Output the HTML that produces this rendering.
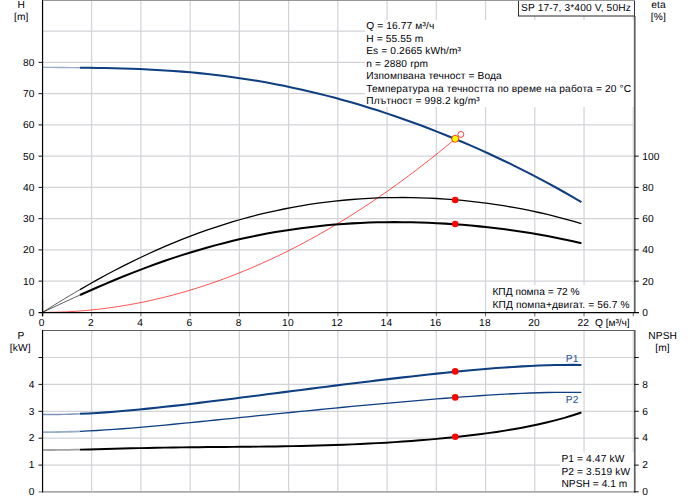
<!DOCTYPE html>
<html><head><meta charset="utf-8"><title>SP 17-7 pump curve</title>
<style>html,body{margin:0;padding:0;background:#fff;}body{width:691px;height:500px;overflow:hidden;position:relative;font-family:"Liberation Sans",sans-serif;}</style></head>
<body>
<svg width="691" height="500" viewBox="0 0 691 500" style="position:absolute;left:0;top:0;display:block">
<rect x="0" y="0" width="691" height="500" fill="#ffffff"/>
<g stroke="#d1d3d7" stroke-width="1.2" fill="none">
<line x1="91.64" y1="0" x2="91.64" y2="312"/>
<line x1="91.64" y1="330" x2="91.64" y2="492"/>
<line x1="140.88" y1="0" x2="140.88" y2="312"/>
<line x1="140.88" y1="330" x2="140.88" y2="492"/>
<line x1="190.12" y1="0" x2="190.12" y2="312"/>
<line x1="190.12" y1="330" x2="190.12" y2="492"/>
<line x1="239.36" y1="0" x2="239.36" y2="312"/>
<line x1="239.36" y1="330" x2="239.36" y2="492"/>
<line x1="288.60" y1="0" x2="288.60" y2="312"/>
<line x1="288.60" y1="330" x2="288.60" y2="492"/>
<line x1="337.84" y1="0" x2="337.84" y2="312"/>
<line x1="337.84" y1="330" x2="337.84" y2="492"/>
<line x1="387.08" y1="0" x2="387.08" y2="312"/>
<line x1="387.08" y1="330" x2="387.08" y2="492"/>
<line x1="436.32" y1="0" x2="436.32" y2="312"/>
<line x1="436.32" y1="330" x2="436.32" y2="492"/>
<line x1="485.56" y1="0" x2="485.56" y2="312"/>
<line x1="485.56" y1="330" x2="485.56" y2="492"/>
<line x1="534.80" y1="0" x2="534.80" y2="312"/>
<line x1="534.80" y1="330" x2="534.80" y2="492"/>
<line x1="584.04" y1="0" x2="584.04" y2="312"/>
<line x1="584.04" y1="330" x2="584.04" y2="492"/>
<line x1="633.28" y1="0" x2="633.28" y2="312"/>
<line x1="633.28" y1="330" x2="633.28" y2="492"/>
<line x1="43" y1="281.15" x2="634" y2="281.15"/>
<line x1="43" y1="249.90" x2="634" y2="249.90"/>
<line x1="43" y1="218.65" x2="634" y2="218.65"/>
<line x1="43" y1="187.40" x2="634" y2="187.40"/>
<line x1="43" y1="156.15" x2="634" y2="156.15"/>
<line x1="43" y1="124.90" x2="634" y2="124.90"/>
<line x1="43" y1="93.65" x2="634" y2="93.65"/>
<line x1="43" y1="62.40" x2="634" y2="62.40"/>
<line x1="43" y1="31.15" x2="634" y2="31.15"/>
<line x1="43" y1="465.10" x2="634" y2="465.10"/>
<line x1="43" y1="438.20" x2="634" y2="438.20"/>
<line x1="43" y1="411.30" x2="634" y2="411.30"/>
<line x1="43" y1="384.40" x2="634" y2="384.40"/>
<line x1="43" y1="357.50" x2="634" y2="357.50"/>
</g>
<rect x="365" y="20" width="268.5" height="87" fill="#fff"/>
<rect x="490" y="285" width="143.5" height="27" fill="#fff"/>
<rect x="560" y="452.5" width="73.5" height="39" fill="#fff"/>
<line x1="38.5" y1="491.8" x2="635.5" y2="491.8" stroke="#aaaaaa" stroke-width="1.7"/>
<line x1="42" y1="330.5" x2="635.3" y2="330.5" stroke="#5e5e5e" stroke-width="1.1"/>
<line x1="634.8" y1="16" x2="634.8" y2="312.5" stroke="#626262" stroke-width="1.65"/>
<line x1="634.8" y1="330" x2="634.8" y2="492.5" stroke="#626262" stroke-width="1.65"/>
<line x1="42.55" y1="0" x2="42.55" y2="316.2" stroke="#000" stroke-width="1.2"/>
<line x1="42.55" y1="330" x2="42.55" y2="492.3" stroke="#000" stroke-width="1.2"/>
<g stroke="#161616" stroke-width="1">
<line x1="38.5" y1="281.15" x2="42" y2="281.15"/>
<line x1="38.5" y1="249.90" x2="42" y2="249.90"/>
<line x1="38.5" y1="218.65" x2="42" y2="218.65"/>
<line x1="38.5" y1="187.40" x2="42" y2="187.40"/>
<line x1="38.5" y1="156.15" x2="42" y2="156.15"/>
<line x1="38.5" y1="124.90" x2="42" y2="124.90"/>
<line x1="38.5" y1="93.65" x2="42" y2="93.65"/>
<line x1="38.5" y1="62.40" x2="42" y2="62.40"/>
<line x1="634" y1="281.15" x2="638.8" y2="281.15"/>
<line x1="634" y1="249.90" x2="638.8" y2="249.90"/>
<line x1="634" y1="218.65" x2="638.8" y2="218.65"/>
<line x1="634" y1="187.40" x2="638.8" y2="187.40"/>
<line x1="634" y1="156.15" x2="638.8" y2="156.15"/>
<line x1="91.64" y1="312" x2="91.64" y2="316.4" stroke="#6a6a6a" stroke-width="1"/>
<line x1="140.88" y1="312" x2="140.88" y2="316.4" stroke="#6a6a6a" stroke-width="1"/>
<line x1="190.12" y1="312" x2="190.12" y2="316.4" stroke="#6a6a6a" stroke-width="1"/>
<line x1="239.36" y1="312" x2="239.36" y2="316.4" stroke="#6a6a6a" stroke-width="1"/>
<line x1="288.60" y1="312" x2="288.60" y2="316.4" stroke="#6a6a6a" stroke-width="1"/>
<line x1="337.84" y1="312" x2="337.84" y2="316.4" stroke="#6a6a6a" stroke-width="1"/>
<line x1="387.08" y1="312" x2="387.08" y2="316.4" stroke="#6a6a6a" stroke-width="1"/>
<line x1="436.32" y1="312" x2="436.32" y2="316.4" stroke="#6a6a6a" stroke-width="1"/>
<line x1="485.56" y1="312" x2="485.56" y2="316.4" stroke="#6a6a6a" stroke-width="1"/>
<line x1="534.80" y1="312" x2="534.80" y2="316.4" stroke="#6a6a6a" stroke-width="1"/>
<line x1="584.04" y1="312" x2="584.04" y2="316.4" stroke="#6a6a6a" stroke-width="1"/>
<line x1="633.28" y1="312" x2="633.28" y2="316.4" stroke="#6a6a6a" stroke-width="1"/>
<line x1="38.5" y1="465.10" x2="42" y2="465.10"/>
<line x1="634" y1="465.10" x2="638.8" y2="465.10"/>
<line x1="38.5" y1="438.20" x2="42" y2="438.20"/>
<line x1="634" y1="438.20" x2="638.8" y2="438.20"/>
<line x1="38.5" y1="411.30" x2="42" y2="411.30"/>
<line x1="634" y1="411.30" x2="638.8" y2="411.30"/>
<line x1="38.5" y1="384.40" x2="42" y2="384.40"/>
<line x1="634" y1="384.40" x2="638.8" y2="384.40"/>
<line x1="38.5" y1="357.50" x2="42" y2="357.50"/>
<line x1="634" y1="357.50" x2="638.8" y2="357.50"/>
<line x1="634" y1="491.8" x2="638.8" y2="491.8"/>
</g>
<g fill="none" stroke-linecap="butt" stroke-linejoin="round">
<path d="M42.40,67.27 L47.77,67.35 L53.14,67.41 L58.51,67.48 L63.89,67.53 L69.26,67.59 L74.63,67.64 L80.00,67.70" stroke="#0e3f80" stroke-width="1.4" stroke-opacity="0.42"/>
<path d="M42.40,414.45 L47.77,414.50 L53.14,414.50 L58.51,414.45 L63.89,414.36 L69.26,414.22 L74.63,414.05 L80.00,413.83" stroke="#0e3f80" stroke-width="1.4" stroke-opacity="0.55"/>
<path d="M42.40,432.06 L47.77,432.08 L53.14,432.06 L58.51,431.99 L63.89,431.88 L69.26,431.74 L74.63,431.56 L80.00,431.35" stroke="#0e3f80" stroke-width="1.8" stroke-opacity="0.42"/>
<path d="M42.40,449.96 L47.77,449.99 L53.14,449.99 L58.51,449.96 L63.89,449.90 L69.26,449.82 L74.63,449.72 L80.00,449.61" stroke="#000" stroke-width="1.8" stroke-opacity="0.36"/>
<path d="M42.40,312.43 L47.77,309.05 L53.14,305.70 L58.51,302.39 L63.89,299.13 L69.26,295.90 L74.63,292.72 L80.00,289.58" stroke="#000" stroke-width="0.8" stroke-opacity="0.8"/>
<path d="M42.40,312.41 L47.77,309.88 L53.14,307.36 L58.51,304.86 L63.89,302.37 L69.26,299.90 L74.63,297.45 L80.00,295.02" stroke="#000" stroke-width="0.8" stroke-opacity="0.8"/>
<path d="M42.40,312.40 L50.83,312.33 L59.25,312.11 L67.68,311.75 L76.10,311.24 L84.53,310.59 L92.96,309.80 L101.38,308.86 L109.81,307.77 L118.23,306.54 L126.66,305.17 L135.09,303.65 L143.51,301.99 L151.94,300.18 L160.36,298.23 L168.79,296.13 L177.22,293.89 L185.64,291.51 L194.07,288.97 L202.50,286.30 L210.92,283.48 L219.35,280.52 L227.77,277.41 L236.20,274.15 L244.63,270.75 L253.05,267.21 L261.48,263.52 L269.90,259.69 L278.33,255.72 L286.76,251.60 L295.18,247.33 L303.61,242.92 L312.03,238.36 L320.46,233.66 L328.89,228.82 L337.31,223.83 L345.74,218.70 L354.16,213.42 L362.59,208.00 L371.02,202.43 L379.44,196.72 L387.87,190.86 L396.29,184.86 L404.72,178.72 L413.15,172.43 L421.57,165.99 L430.00,159.41 L438.43,152.69 L446.85,145.82 L455.28,138.81" stroke="#ff0000" stroke-width="0.85" stroke-opacity="0.8"/>
<path d="M80.00,289.58 L88.50,284.70 L97.00,279.94 L105.49,275.30 L113.99,270.78 L122.49,266.39 L130.99,262.13 L139.49,258.01 L147.99,254.01 L156.48,250.16 L164.98,246.44 L173.48,242.85 L181.98,239.41 L190.48,236.11 L198.98,232.95 L207.47,229.93 L215.97,227.05 L224.47,224.31 L232.97,221.71 L241.47,219.25 L249.97,216.93 L258.46,214.74 L266.96,212.70 L275.46,210.79 L283.96,209.01 L292.46,207.37 L300.96,205.86 L309.45,204.48 L317.95,203.23 L326.45,202.10 L334.95,201.11 L343.45,200.24 L351.95,199.49 L360.44,198.86 L368.94,198.35 L377.44,197.97 L385.94,197.70 L394.44,197.55 L402.94,197.51 L411.43,197.59 L419.93,197.78 L428.43,198.09 L436.93,198.51 L445.43,199.04 L453.93,199.69 L462.42,200.45 L470.92,201.32 L479.42,202.30 L487.92,203.40 L496.42,204.62 L504.92,205.96 L513.41,207.41 L521.91,208.98 L530.41,210.68 L538.91,212.50 L547.41,214.46 L555.91,216.54 L564.40,218.76 L572.90,221.13 L581.40,223.63" stroke="#000" stroke-width="1.3"/>
<path d="M80.00,295.02 L88.50,291.23 L97.00,287.50 L105.49,283.85 L113.99,280.28 L122.49,276.80 L130.99,273.40 L139.49,270.10 L147.99,266.89 L156.48,263.79 L164.98,260.79 L173.48,257.90 L181.98,255.12 L190.48,252.46 L198.98,249.90 L207.47,247.46 L215.97,245.13 L224.47,242.92 L232.97,240.83 L241.47,238.85 L249.97,236.99 L258.46,235.24 L266.96,233.61 L275.46,232.10 L283.96,230.69 L292.46,229.40 L300.96,228.22 L309.45,227.15 L317.95,226.19 L326.45,225.33 L334.95,224.58 L343.45,223.93 L351.95,223.39 L360.44,222.94 L368.94,222.60 L377.44,222.34 L385.94,222.19 L394.44,222.12 L402.94,222.15 L411.43,222.27 L419.93,222.48 L428.43,222.78 L436.93,223.16 L445.43,223.63 L453.93,224.19 L462.42,224.83 L470.92,225.56 L479.42,226.37 L487.92,227.26 L496.42,228.25 L504.92,229.32 L513.41,230.47 L521.91,231.72 L530.41,233.06 L538.91,234.49 L547.41,236.02 L555.91,237.65 L564.40,239.38 L572.90,241.22 L581.40,243.17" stroke="#000" stroke-width="2.05"/>
<path d="M80.00,67.70 L88.50,67.80 L97.00,67.93 L105.49,68.08 L113.99,68.26 L122.49,68.49 L130.99,68.76 L139.49,69.08 L147.99,69.46 L156.48,69.90 L164.98,70.40 L173.48,70.97 L181.98,71.62 L190.48,72.34 L198.98,73.14 L207.47,74.02 L215.97,74.99 L224.47,76.04 L232.97,77.17 L241.47,78.39 L249.97,79.71 L258.46,81.11 L266.96,82.60 L275.46,84.19 L283.96,85.86 L292.46,87.63 L300.96,89.49 L309.45,91.44 L317.95,93.49 L326.45,95.63 L334.95,97.85 L343.45,100.17 L351.95,102.58 L360.44,105.08 L368.94,107.67 L377.44,110.35 L385.94,113.12 L394.44,115.98 L402.94,118.93 L411.43,121.96 L419.93,125.08 L428.43,128.30 L436.93,131.60 L445.43,134.98 L453.93,138.46 L462.42,142.02 L470.92,145.68 L479.42,149.43 L487.92,153.27 L496.42,157.20 L504.92,161.22 L513.41,165.35 L521.91,169.57 L530.41,173.89 L538.91,178.32 L547.41,182.85 L555.91,187.50 L564.40,192.25 L572.90,197.13 L581.40,202.13" stroke="#0e3f80" stroke-width="2.05"/>
<path d="M80.00,413.83 L88.50,413.42 L97.00,412.93 L105.49,412.36 L113.99,411.73 L122.49,411.03 L130.99,410.28 L139.49,409.48 L147.99,408.63 L156.48,407.75 L164.98,406.83 L173.48,405.88 L181.98,404.91 L190.48,403.91 L198.98,402.89 L207.47,401.85 L215.97,400.80 L224.47,399.74 L232.97,398.67 L241.47,397.59 L249.97,396.50 L258.46,395.41 L266.96,394.32 L275.46,393.23 L283.96,392.13 L292.46,391.04 L300.96,389.95 L309.45,388.86 L317.95,387.78 L326.45,386.70 L334.95,385.63 L343.45,384.57 L351.95,383.51 L360.44,382.46 L368.94,381.42 L377.44,380.39 L385.94,379.38 L394.44,378.38 L402.94,377.39 L411.43,376.42 L419.93,375.46 L428.43,374.53 L436.93,373.62 L445.43,372.73 L453.93,371.88 L462.42,371.05 L470.92,370.25 L479.42,369.49 L487.92,368.77 L496.42,368.10 L504.92,367.48 L513.41,366.90 L521.91,366.39 L530.41,365.94 L538.91,365.56 L547.41,365.26 L555.91,365.04 L564.40,364.92 L572.90,364.89 L581.40,364.96" stroke="#0e3f80" stroke-width="2.05"/>
<path d="M80.00,431.35 L88.50,430.95 L97.00,430.49 L105.49,429.96 L113.99,429.38 L122.49,428.75 L130.99,428.08 L139.49,427.37 L147.99,426.63 L156.48,425.86 L164.98,425.07 L173.48,424.26 L181.98,423.43 L190.48,422.59 L198.98,421.74 L207.47,420.88 L215.97,420.02 L224.47,419.15 L232.97,418.28 L241.47,417.41 L249.97,416.54 L258.46,415.68 L266.96,414.81 L275.46,413.95 L283.96,413.10 L292.46,412.25 L300.96,411.40 L309.45,410.56 L317.95,409.73 L326.45,408.90 L334.95,408.08 L343.45,407.27 L351.95,406.46 L360.44,405.66 L368.94,404.87 L377.44,404.08 L385.94,403.31 L394.44,402.55 L402.94,401.79 L411.43,401.05 L419.93,400.32 L428.43,399.61 L436.93,398.91 L445.43,398.23 L453.93,397.57 L462.42,396.93 L470.92,396.32 L479.42,395.73 L487.92,395.17 L496.42,394.65 L504.92,394.17 L513.41,393.74 L521.91,393.35 L530.41,393.01 L538.91,392.73 L547.41,392.52 L555.91,392.38 L564.40,392.32 L572.90,392.34 L581.40,392.46" stroke="#0e3f80" stroke-width="1.3"/>
<path d="M80.00,449.61 L88.50,449.42 L97.00,449.20 L105.49,448.98 L113.99,448.76 L122.49,448.54 L130.99,448.33 L139.49,448.14 L147.99,447.96 L156.48,447.79 L164.98,447.64 L173.48,447.50 L181.98,447.38 L190.48,447.28 L198.98,447.18 L207.47,447.09 L215.97,447.02 L224.47,446.94 L232.97,446.87 L241.47,446.79 L249.97,446.71 L258.46,446.62 L266.96,446.52 L275.46,446.41 L283.96,446.28 L292.46,446.13 L300.96,445.96 L309.45,445.77 L317.95,445.55 L326.45,445.31 L334.95,445.03 L343.45,444.72 L351.95,444.38 L360.44,444.00 L368.94,443.59 L377.44,443.15 L385.94,442.66 L394.44,442.13 L402.94,441.57 L411.43,440.96 L419.93,440.30 L428.43,439.60 L436.93,438.86 L445.43,438.05 L453.93,437.20 L462.42,436.28 L470.92,435.30 L479.42,434.25 L487.92,433.13 L496.42,431.91 L504.92,430.61 L513.41,429.20 L521.91,427.68 L530.41,426.03 L538.91,424.24 L547.41,422.28 L555.91,420.15 L564.40,417.82 L572.90,415.26 L581.40,412.46" stroke="#000" stroke-width="1.95"/>
</g>
<circle cx="460.9" cy="134.4" r="2.95" fill="none" stroke="#ff0000" stroke-width="0.9" stroke-opacity="0.8"/>
<circle cx="455.2" cy="138.8" r="3.5" fill="#ffff00" stroke="#ff0000" stroke-width="0.75"/>
<circle cx="455.2" cy="200" r="3.3" fill="#ff0000"/>
<circle cx="455.2" cy="224" r="3.3" fill="#ff0000"/>
<circle cx="455.2" cy="371.4" r="3.3" fill="#ff0000"/>
<circle cx="455.2" cy="397.4" r="3.3" fill="#ff0000"/>
<circle cx="455.2" cy="436.8" r="3.3" fill="#ff0000"/>
<line x1="38.5" y1="312.5" x2="639" y2="312.5" stroke="#000" stroke-width="1.25"/>
<line x1="42.55" y1="300" x2="42.55" y2="316.2" stroke="#000" stroke-width="1.2"/>
<rect x="518.5" y="-1" width="116" height="17" fill="#fff" stroke="#333" stroke-width="1.05"/>
<line x1="43" y1="0.3" x2="635" y2="0.3" stroke="#979797" stroke-width="1.2"/>
<g font-family="'Liberation Sans', sans-serif" font-size="10.2px" letter-spacing="0.13px" style="text-rendering:geometricPrecision" fill="#000008">
<text x="521" y="11" xml:space="preserve">SP 17-7, 3*400 V, 50Hz</text>
<text x="366.2" y="29" xml:space="preserve">Q = 16.77 м³/ч</text>
<text x="366.2" y="42" xml:space="preserve">H = 55.55 m</text>
<text x="366.2" y="54" xml:space="preserve">Es = 0.2665 kWh/m³</text>
<text x="366.2" y="67" xml:space="preserve">n = 2880 rpm</text>
<text x="366.2" y="79" xml:space="preserve">Изпомпвана течност = Вода</text>
<text x="366.2" y="92" xml:space="preserve">Температура на течността по време на работа = 20 °C</text>
<text x="366.2" y="104" xml:space="preserve">Плътност = 998.2 kg/m³</text>
<text x="492.4" y="295" textLength="87.4" lengthAdjust="spacing" xml:space="preserve">КПД помпа = 72 %</text>
<text x="492.4" y="308" xml:space="preserve">КПД помпа+двигат. = 56.7 %</text>
<text x="561.4" y="462" xml:space="preserve">P1 = 4.47 kW</text>
<text x="561.4" y="475" xml:space="preserve">P2 = 3.519 kW</text>
<text x="561.4" y="487" textLength="66.0" lengthAdjust="spacing" xml:space="preserve">NPSH = 4.1 m</text>
<text x="21.3" y="8" text-anchor="middle" xml:space="preserve">H</text>
<text x="21.3" y="20" text-anchor="middle" xml:space="preserve">[m]</text>
<text x="658.6" y="8" text-anchor="middle" xml:space="preserve">eta</text>
<text x="658.4" y="20" text-anchor="middle" xml:space="preserve">[%]</text>
<text x="21" y="339" text-anchor="middle" xml:space="preserve">P</text>
<text x="20.3" y="351" text-anchor="middle" xml:space="preserve">[kW]</text>
<text x="662.7" y="339" text-anchor="middle" xml:space="preserve">NPSH</text>
<text x="662.5" y="351" text-anchor="middle" xml:space="preserve">[m]</text>
<text x="34.5" y="316" text-anchor="end" xml:space="preserve">0</text>
<text x="34.5" y="285" text-anchor="end" xml:space="preserve">10</text>
<text x="34.5" y="253" text-anchor="end" xml:space="preserve">20</text>
<text x="34.5" y="222" text-anchor="end" xml:space="preserve">30</text>
<text x="34.5" y="191" text-anchor="end" xml:space="preserve">40</text>
<text x="34.5" y="160" text-anchor="end" xml:space="preserve">50</text>
<text x="34.5" y="128" text-anchor="end" xml:space="preserve">60</text>
<text x="34.5" y="97" text-anchor="end" xml:space="preserve">70</text>
<text x="34.5" y="66" text-anchor="end" xml:space="preserve">80</text>
<text x="642.2" y="316" xml:space="preserve">0</text>
<text x="642.2" y="285" xml:space="preserve">20</text>
<text x="642.2" y="253" xml:space="preserve">40</text>
<text x="642.2" y="222" xml:space="preserve">60</text>
<text x="642.2" y="191" xml:space="preserve">80</text>
<text x="642.2" y="160" xml:space="preserve">100</text>
<text x="41.7" y="326" text-anchor="middle" xml:space="preserve">0</text>
<text x="90.9" y="326" text-anchor="middle" xml:space="preserve">2</text>
<text x="140.2" y="326" text-anchor="middle" xml:space="preserve">4</text>
<text x="189.4" y="326" text-anchor="middle" xml:space="preserve">6</text>
<text x="238.7" y="326" text-anchor="middle" xml:space="preserve">8</text>
<text x="287.9" y="326" text-anchor="middle" xml:space="preserve">10</text>
<text x="337.1" y="326" text-anchor="middle" xml:space="preserve">12</text>
<text x="386.4" y="326" text-anchor="middle" xml:space="preserve">14</text>
<text x="435.6" y="326" text-anchor="middle" xml:space="preserve">16</text>
<text x="484.9" y="326" text-anchor="middle" xml:space="preserve">18</text>
<text x="534.1" y="326" text-anchor="middle" xml:space="preserve">20</text>
<text x="583.3" y="326" text-anchor="middle" xml:space="preserve">22</text>
<text x="595" y="326" textLength="34.8" lengthAdjust="spacing" xml:space="preserve">Q [м³/ч]</text>
<text x="34.5" y="495" text-anchor="end" xml:space="preserve">0</text>
<text x="34.5" y="468" text-anchor="end" xml:space="preserve">1</text>
<text x="34.5" y="441" text-anchor="end" xml:space="preserve">2</text>
<text x="34.5" y="415" text-anchor="end" xml:space="preserve">3</text>
<text x="34.5" y="388" text-anchor="end" xml:space="preserve">4</text>
<text x="642.2" y="495" xml:space="preserve">0</text>
<text x="642.2" y="468" xml:space="preserve">2</text>
<text x="642.2" y="441" xml:space="preserve">4</text>
<text x="642.2" y="415" xml:space="preserve">6</text>
<text x="642.2" y="388" xml:space="preserve">8</text>
<text x="578.6" y="362" text-anchor="end" fill="#1d4f91" xml:space="preserve">P1</text>
<text x="578.6" y="403" text-anchor="end" fill="#1d4f91" xml:space="preserve">P2</text>
</g>
</svg>
</body></html>
